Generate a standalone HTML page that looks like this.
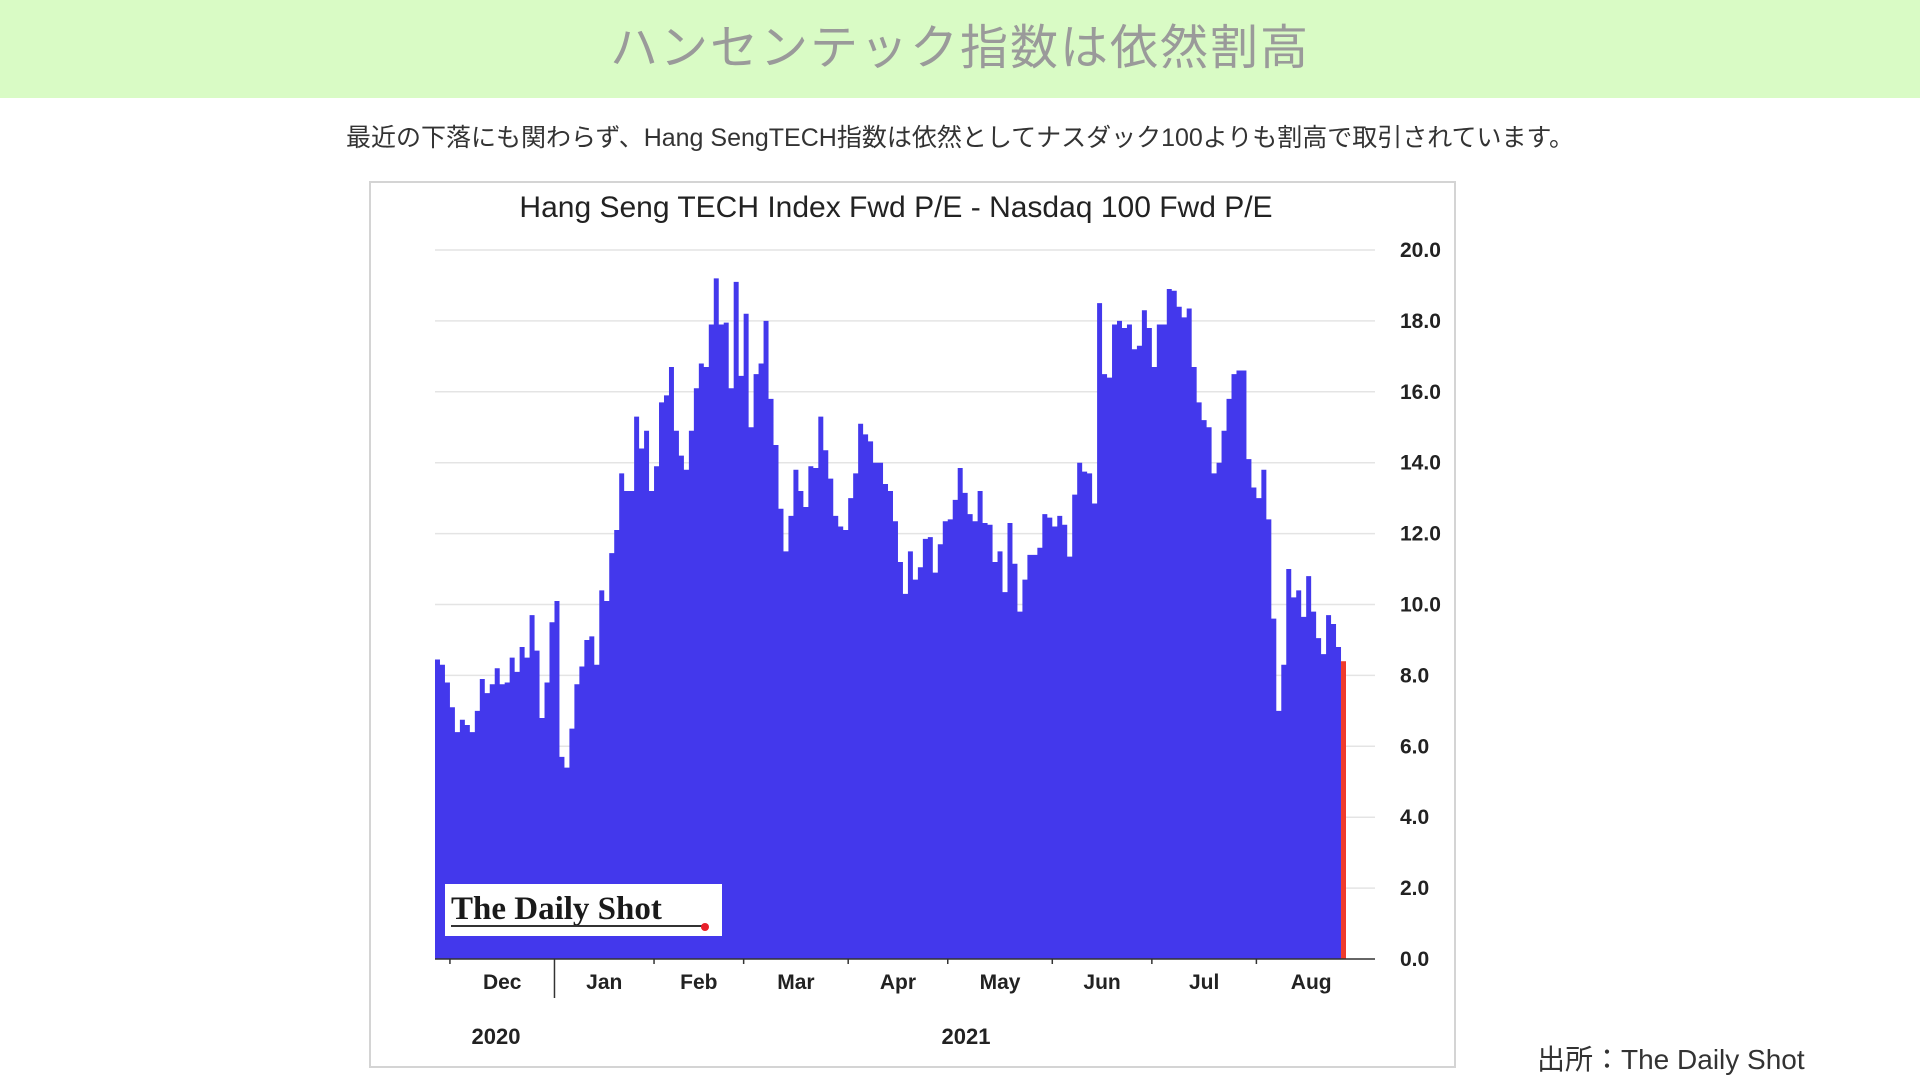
<!DOCTYPE html>
<html><head><meta charset="utf-8">
<style>
body{margin:0;width:1920px;height:1080px;background:#fff;position:relative;overflow:hidden;font-family:"Liberation Sans","Noto Sans CJK JP",sans-serif}
.hdr{position:absolute;left:0;top:0;width:1920px;height:98px;background:#d9fbc5;text-align:center;line-height:98px;font-size:48px;color:#9a9a9a;letter-spacing:2px}
.sub{position:absolute;left:0;top:118px;width:1920px;text-align:center;font-size:25px;color:#333}
.frame{position:absolute;left:369px;top:181px;width:1087px;height:887px;border:2px solid #d4d4d4;box-sizing:border-box}
.src{position:absolute;left:1537px;top:1038px;font-size:28px;color:#333}
</style></head><body>
<div class="hdr">ハンセンテック指数は依然割高</div>
<div class="sub">最近の下落にも関わらず、Hang SengTECH指数は依然としてナスダック100よりも割高で取引されています。</div>
<div class="frame"></div>
<svg id="chart" style="position:absolute;left:0;top:0" width="1920" height="1080"></svg>
<div class="src">出所：The Daily Shot</div>
<script>
const values=[8.45,8.3,7.8,7.1,6.4,6.75,6.6,6.4,7.0,7.9,7.5,7.75,8.2,7.75,7.8,8.5,8.1,8.8,8.5,9.7,8.7,6.8,7.8,9.5,10.1,5.7,5.4,6.5,7.75,8.25,9.0,9.1,8.3,10.4,10.1,11.45,12.1,13.7,13.2,13.2,15.3,14.4,14.9,13.2,13.9,15.7,15.9,16.7,14.9,14.2,13.8,14.9,16.1,16.8,16.7,17.9,19.2,17.9,17.95,16.1,19.1,16.45,18.2,15.0,16.5,16.8,18.0,15.8,14.5,12.7,11.5,12.5,13.8,13.2,12.75,13.9,13.85,15.3,14.35,13.55,12.5,12.2,12.1,13.0,13.7,15.1,14.8,14.6,14.0,14.0,13.4,13.2,12.35,11.2,10.3,11.5,10.7,11.05,11.85,11.9,10.9,11.7,12.35,12.4,12.95,13.85,13.15,12.55,12.35,13.2,12.3,12.25,11.2,11.5,10.35,12.3,11.15,9.8,10.7,11.4,11.4,11.6,12.55,12.45,12.2,12.5,12.25,11.35,13.1,14.0,13.75,13.7,12.85,18.5,16.5,16.4,17.9,18.0,17.8,17.9,17.2,17.3,18.3,17.8,16.7,17.9,17.9,18.9,18.85,18.4,18.1,18.35,16.7,15.7,15.2,15.0,13.7,14.0,14.9,15.8,16.5,16.6,16.6,14.1,13.3,13.0,13.8,12.4,9.6,7.0,8.3,11.0,10.2,10.4,9.65,10.8,9.8,9.05,8.6,9.7,9.45,8.8,8.4];
const yTicks=[0,2,4,6,8,10,12,14,16,18,20];
const months=["Dec","Jan","Feb","Mar","Apr","May","Jun","Jul","Aug"];
const monthStartIdx=[3,24,44,62,83,103,124,144,165];
const years=["2020","2021"];

const svg=document.getElementById('chart');
const NS='http://www.w3.org/2000/svg';
const X0=435,X1=1346,Y0=959,Y20=250;
const bw=(X1-X0)/values.length;
const xs=i=>X0+i*bw;
const ys=v=>Y0+(Y20-Y0)*v/20;
function mk(t,a){const e=document.createElementNS(NS,t);for(const k in a)e.setAttribute(k,a[k]);svg.appendChild(e);return e;}

let t=mk('text',{x:896,y:217,'font-size':30,'text-anchor':'middle',fill:'#222','font-family':'Liberation Sans, sans-serif'});


t.textContent='Hang Seng TECH Index Fwd P/E - Nasdaq 100 Fwd P/E';

yTicks.forEach(v=>{
  if(v>0){const g=mk('line',{x1:X0,x2:1375,y1:ys(v),y2:ys(v),stroke:'#e4e4e4','stroke-width':1.5});
  
  }
  const l=mk('text',{x:1400,y:ys(v)+7,'font-size':21,'font-weight':'bold','text-anchor':'start',fill:'#222'});
  
  
  l.textContent=v.toFixed(1);
});

let d='M'+X0+','+Y0;
values.forEach((v,i)=>{if(i===values.length-1)return;d+=' L'+xs(i)+','+ys(v)+' L'+xs(i+1)+','+ys(v);});
d+=' L'+xs(values.length-1)+','+Y0+' Z';
const area=mk('path',{d:d,fill:'#4338ec'});


const last=values.length-1;
const red=mk('rect',{x:xs(last),y:ys(values[last]),width:bw,height:Y0-ys(values[last]),fill:'#ef3b2c'});



const ax=mk('line',{x1:X0,x2:1375,y1:Y0,y2:Y0,stroke:'#333','stroke-width':1.5});



monthStartIdx.forEach((idx,i)=>{
  const x=xs(idx);
  const tk=mk('line',{x1:x,x2:x,y1:Y0,y2:i===1?998:Y0+5,stroke:'#333','stroke-width':1.5});
  
  
  const nx=i+1<monthStartIdx.length?xs(monthStartIdx[i+1]):X1+20;
  const lb=mk('text',{x:(x+nx)/2,y:989,'font-size':21,'font-weight':'bold','text-anchor':'middle',fill:'#222'});
  
  
  lb.textContent=months[i];
});
[[496,years[0]],[966,years[1]]].forEach(([x,s])=>{
  const yl=mk('text',{x:x,y:1044,'font-size':22,'font-weight':'bold','text-anchor':'middle',fill:'#222'});
  
  
  yl.textContent=s;
});

const lg=mk('rect',{x:445,y:884,width:277,height:52,fill:'#fff'});


const lt=mk('text',{x:451,y:919,'font-size':33,'font-weight':'bold',fill:'#1a1a1a','font-family':'Liberation Serif, serif'});


lt.textContent='The Daily Shot';
mk('line',{x1:451,x2:705,y1:926,y2:926,stroke:'#333','stroke-width':2});
mk('circle',{cx:705,cy:927,r:4,fill:'#e8202a'});
</script>
</body></html>
